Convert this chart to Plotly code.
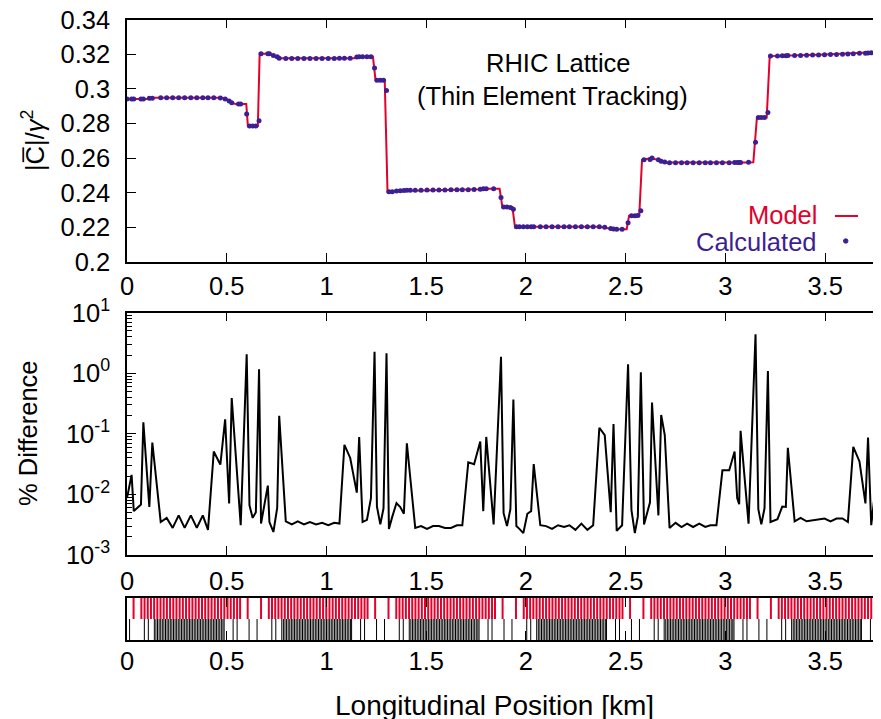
import plotly.graph_objects as go

# ---------------- data ----------------
s_km = [0.000, 0.023, 0.034, 0.070, 0.082, 0.112, 0.127, 0.169, 0.199, 0.229,
        0.259, 0.289, 0.320, 0.350, 0.380, 0.406, 0.435, 0.468, 0.492, 0.512,
        0.525, 0.559, 0.570, 0.600, 0.614, 0.630, 0.646, 0.662, 0.672, 0.706,
        0.714, 0.734, 0.753, 0.763, 0.796, 0.826, 0.856, 0.887, 0.917, 0.948,
        0.978, 1.009, 1.039, 1.065, 1.090, 1.119, 1.152, 1.164, 1.181, 1.203,
        1.223, 1.241, 1.253, 1.270, 1.286, 1.301, 1.313, 1.330, 1.351, 1.370,
        1.388, 1.403, 1.420, 1.445, 1.474, 1.504, 1.534, 1.564, 1.594, 1.624,
        1.654, 1.681, 1.711, 1.740, 1.771, 1.786, 1.801, 1.838, 1.875, 1.888,
        1.905, 1.922, 1.937, 1.952, 1.967, 1.987, 2.007, 2.026, 2.039, 2.072,
        2.101, 2.131, 2.161, 2.191, 2.218, 2.248, 2.278, 2.308, 2.337, 2.368,
        2.395, 2.425, 2.439, 2.455, 2.482, 2.512, 2.529, 2.546, 2.561, 2.576,
        2.592, 2.622, 2.632, 2.664, 2.678, 2.696, 2.720, 2.750, 2.780, 2.808,
        2.838, 2.869, 2.899, 2.925, 2.955, 2.985, 3.019, 3.046, 3.059, 3.069,
        3.076, 3.116, 3.151, 3.165, 3.180, 3.196, 3.213, 3.226, 3.261, 3.285,
        3.303, 3.313, 3.347, 3.377, 3.407, 3.437, 3.467, 3.497, 3.527, 3.557,
        3.587, 3.614, 3.641, 3.672, 3.702, 3.715, 3.731, 3.754, 3.760, 3.783]

c_calc = [0.2941, 0.2941, 0.2941, 0.2942, 0.2941, 0.2945, 0.2946, 0.2948, 0.2948, 0.2948,
          0.2948, 0.2948, 0.2948, 0.2948, 0.2948, 0.2948, 0.2948, 0.2947, 0.2942, 0.2930,
          0.2920, 0.2912, 0.2912, 0.2855, 0.2785, 0.2785, 0.2785, 0.2816, 0.3203, 0.3203,
          0.3202, 0.3193, 0.3185, 0.3176, 0.3175, 0.3175, 0.3175, 0.3175, 0.3175, 0.3175,
          0.3175, 0.3175, 0.3175, 0.3176, 0.3176, 0.3176, 0.3184, 0.3185, 0.3185, 0.3185,
          0.3185, 0.3120, 0.3050, 0.3050, 0.3050, 0.2990, 0.2405, 0.2405, 0.2410, 0.2412,
          0.2413, 0.2414, 0.2415, 0.2415, 0.2415, 0.2416, 0.2416, 0.2416, 0.2416, 0.2417,
          0.2417, 0.2417, 0.2417, 0.2418, 0.2420, 0.2423, 0.2423, 0.2423, 0.2373, 0.2317,
          0.2317, 0.2315, 0.2305, 0.2203, 0.2203, 0.2203, 0.2203, 0.2203, 0.2204, 0.2204,
          0.2204, 0.2204, 0.2204, 0.2204, 0.2204, 0.2204, 0.2204, 0.2204, 0.2204, 0.2203,
          0.2200, 0.2193, 0.2190, 0.2189, 0.2189, 0.2227, 0.2267, 0.2267, 0.2268, 0.2296,
          0.2590, 0.2592, 0.2600, 0.2590, 0.2582, 0.2578, 0.2573, 0.2573, 0.2573, 0.2573,
          0.2573, 0.2573, 0.2573, 0.2573, 0.2573, 0.2573, 0.2573, 0.2574, 0.2574, 0.2574,
          0.2575, 0.2576, 0.2691, 0.2835, 0.2835, 0.2835, 0.2864, 0.3189, 0.3190, 0.3191,
          0.3191, 0.3192, 0.3192, 0.3193, 0.3194, 0.3195, 0.3196, 0.3197, 0.3198, 0.3199,
          0.3200, 0.3201, 0.3203, 0.3205, 0.3206, 0.3207, 0.3208, 0.3210, 0.3212, 0.3100]

pct_diff = [0.0087, 0.021, 0.0053, 0.0068, 0.155, 0.0062, 0.072, 0.0035, 0.0041, 0.0028,
            0.0045, 0.0028, 0.0045, 0.0028, 0.0045, 0.0026, 0.051, 0.031, 0.174, 0.0071,
            0.39, 0.010, 0.0031, 2.05, 0.0066, 0.0041, 0.0051, 1.16, 0.0033, 0.014,
            0.0035, 0.0024, 0.0060, 0.199, 0.0036, 0.0032, 0.0036, 0.0032, 0.0035, 0.0032,
            0.0034, 0.0031, 0.0034, 0.0033, 0.066, 0.040, 0.0107, 0.089, 0.0035, 0.0038,
            0.0087, 2.27, 0.0063, 0.0032, 0.0059, 2.14, 0.0027, 0.0043, 0.0072, 0.0062,
            0.0048, 0.070, 0.0195, 0.0028, 0.0030, 0.0027, 0.0030, 0.0030, 0.0028, 0.0028,
            0.0031, 0.0031, 0.034, 0.0316, 0.075, 0.0053, 0.089, 0.0032, 1.88, 0.0049,
            0.0030, 0.0057, 0.37, 0.0030, 0.0027, 0.0023, 0.0048, 0.0053, 0.0316, 0.0031,
            0.0030, 0.0027, 0.0031, 0.0029, 0.0031, 0.0026, 0.0033, 0.0026, 0.0031, 0.126,
            0.095, 0.0051, 0.145, 0.0025, 0.0031, 1.41, 0.0055, 0.0023, 0.0043, 1.04,
            0.0032, 0.0074, 0.33, 0.0045, 0.205, 0.095, 0.0028, 0.0034, 0.0029, 0.0033,
            0.0029, 0.0033, 0.0029, 0.0031, 0.0031, 0.025, 0.025, 0.051, 0.0087, 0.0069,
            0.112, 0.0033, 4.4, 0.0057, 0.0032, 0.0059, 1.09, 0.0035, 0.0039, 0.0063,
            0.0062, 0.059, 0.0036, 0.0041, 0.0036, 0.0037, 0.0038, 0.0040, 0.0036, 0.0040,
            0.0040, 0.0035, 0.061, 0.035, 0.0071, 0.087, 0.0031, 0.0145, 0.0049, 2.6]

model_s = [0.000, 0.100, 0.130, 0.470, 0.500, 0.525, 0.545, 0.598, 0.606, 0.656,
           0.665, 0.710, 0.760, 1.140, 1.152, 1.233, 1.246, 1.292, 1.306, 1.350,
           1.770, 1.786, 1.868, 1.882, 1.932, 1.945, 2.370, 2.440, 2.505, 2.517,
           2.568, 2.582, 2.630, 2.700, 3.100, 3.140, 3.158, 3.207, 3.222, 3.500,
           3.760, 3.790]
model_c = [0.2941, 0.2941, 0.2948, 0.2948, 0.2942, 0.2920, 0.2912, 0.2912, 0.2785, 0.2785,
           0.3203, 0.3203, 0.3176, 0.3176, 0.3185, 0.3185, 0.3050, 0.3050, 0.2405, 0.2410,
           0.2420, 0.2423, 0.2423, 0.2317, 0.2317, 0.2203, 0.2203, 0.2189, 0.2189, 0.2267,
           0.2267, 0.2590, 0.2600, 0.2574, 0.2574, 0.2576, 0.2835, 0.2835, 0.3189, 0.3198,
           0.3212, 0.3212]

# lattice layout (km)
sector_start = [-0.567, 0.072, 0.711, 1.350, 1.989, 2.628, 3.267]
dipole_offsets = [0.000, 0.016, 0.032, 0.048, 0.064, 0.080, 0.096, 0.112, 0.128, 0.144,
                  0.160, 0.176, 0.192, 0.208, 0.224, 0.240, 0.256, 0.272, 0.288, 0.304,
                  0.320, 0.336, 0.352, 0.368, 0.384, 0.400, 0.416, 0.432, 0.448, 0.464,
                  0.480, 0.495, 0.533, 0.600]
quad_offsets = [0.015, 0.035, 0.065, 0.073, 0.081, 0.089, 0.097, 0.105, 0.113, 0.121,
                0.129, 0.137, 0.145, 0.153, 0.161, 0.169, 0.177, 0.185, 0.193, 0.201,
                0.209, 0.217, 0.225, 0.233, 0.241, 0.249, 0.257, 0.265, 0.273, 0.281,
                0.289, 0.297, 0.305, 0.313, 0.321, 0.329, 0.337, 0.345, 0.353, 0.361,
                0.369, 0.377, 0.385, 0.393, 0.401, 0.409, 0.415, 0.460, 0.480, 0.540,
                0.580]

x_ticks = [0, 0.5, 1, 1.5, 2, 2.5, 3, 3.5]
x_tick_text = ["0", "0.5", "1", "1.5", "2", "2.5", "3", "3.5"]
c_ticks = [0.2, 0.22, 0.24, 0.26, 0.28, 0.3, 0.32, 0.34]
c_tick_text = ["0.2", "0.22", "0.24", "0.26", "0.28", "0.3", "0.32", "0.34"]
d_ticks = [0.001, 0.01, 0.1, 1, 10]
d_tick_text = ["10<sup>-3</sup>", "10<sup>-2</sup>", "10<sup>-1</sup>",
               "10<sup>0</sup>", "10<sup>1</sup>"]
d_minor = [0.002, 0.003, 0.004, 0.005, 0.006, 0.007, 0.008, 0.009,
           0.02, 0.03, 0.04, 0.05, 0.06, 0.07, 0.08, 0.09,
           0.2, 0.3, 0.4, 0.5, 0.6, 0.7, 0.8, 0.9,
           2, 3, 4, 5, 6, 7, 8, 9]

RED = "#e3002b"
PURPLE = "#3d1f94"
FONT = "Liberation Sans, Arial, Helvetica, sans-serif"
FS = 25.5
X_MAX = 3.78

# build lattice line segments
dip_x, dip_y, quad_x, quad_y = [], [], [], []
for s0 in sector_start:
    for o in dipole_offsets:
        p = s0 + o
        dip_x += [p, p, None]
        dip_y += [1.0, 2.0, None]
    for o in quad_offsets:
        p = s0 + o
        quad_x += [p, p, None]
        quad_y += [0.0, 1.0, None]

fig = go.Figure()
fig.add_trace(go.Scatter(x=model_s, y=model_c, mode="lines",
                         line=dict(color=RED, width=2), xaxis="x", yaxis="y",
                         showlegend=False))
fig.add_trace(go.Scatter(x=s_km, y=c_calc, mode="markers",
                         marker=dict(color=PURPLE, size=5, symbol="circle"),
                         xaxis="x", yaxis="y", showlegend=False))
fig.add_trace(go.Scatter(x=s_km, y=pct_diff, mode="lines",
                         line=dict(color="black", width=2), xaxis="x2", yaxis="y2",
                         showlegend=False))
fig.add_trace(go.Scatter(x=dip_x, y=dip_y, mode="lines",
                         line=dict(color=RED, width=2), xaxis="x3", yaxis="y3",
                         showlegend=False))
fig.add_trace(go.Scatter(x=quad_x, y=quad_y, mode="lines",
                         line=dict(color="black", width=1), xaxis="x3", yaxis="y3",
                         showlegend=False))

# the page body adds an 8 px offset; the figure is sized so its area ends at the window edge
OFF = 8
W, H = 881 - OFF, 719 - OFF
L = 127 - OFF


def py(p):
    return 1 - (p - OFF) / H


def px(p):
    return (p - OFF - L) / (W - L)


def xaxis_cfg(standoff):
    return dict(range=[0, X_MAX], tickvals=x_ticks, ticktext=x_tick_text,
                ticks="inside", ticklen=9, tickwidth=1.3, tickcolor="black",
                showline=True, linecolor="black", linewidth=1.5, mirror="ticks",
                showgrid=False, zeroline=False,
                tickfont=dict(family=FONT, size=FS, color="black"),
                ticklabelstandoff=standoff, automargin=False, domain=[0, 1])


fig.update_layout(
    width=W, height=H,
    margin=dict(l=L, r=0, t=0, b=0),
    paper_bgcolor="white", plot_bgcolor="white",
    font=dict(family=FONT, size=FS, color="black"),
    showlegend=False,
    xaxis=dict(xaxis_cfg(1), anchor="y"),
    xaxis2=dict(xaxis_cfg(3), anchor="y2"),
    xaxis3=dict(xaxis_cfg(-2), anchor="y3"),
    yaxis=dict(domain=[py(262), py(19.5)], range=[0.2, 0.34005], anchor="x",
               tickvals=c_ticks, ticktext=c_tick_text,
               ticks="inside", ticklen=9, tickwidth=1.3, tickcolor="black",
               showline=True, linecolor="black", linewidth=1.5,
               showgrid=False, zeroline=False,
               tickfont=dict(family=FONT, size=FS, color="black"),
               ticklabelstandoff=10, ticklabeloverflow="allow", automargin=False),
    yaxis2=dict(domain=[py(555), py(312.7)], type="log", range=[-3, 1], anchor="x2",
                tickvals=d_ticks, ticktext=d_tick_text,
                ticks="inside", ticklen=9, tickwidth=1.3, tickcolor="black",
                minor=dict(tickvals=d_minor, ticks="inside", ticklen=5, tickwidth=1,
                           tickcolor="black", showgrid=False),
                showline=True, linecolor="black", linewidth=1.5,
                showgrid=False, zeroline=False,
                tickfont=dict(family=FONT, size=FS, color="black"),
                ticklabelstandoff=10, ticklabeloverflow="allow", automargin=False),
    yaxis3=dict(domain=[py(640), py(598)], range=[0, 2], anchor="x3",
                showticklabels=False, ticks="",
                showline=True, linecolor="black", linewidth=1.5, mirror=False,
                showgrid=False, zeroline=False, automargin=False),
)

ann = [
    dict(text="|C\u0305|/<i>\u03b3</i><sup>2</sup>", x=px(33), y=py(140), textangle=-90,
         font=dict(size=FS)),
    dict(text="% Difference", x=px(28), y=py(433), textangle=-90, font=dict(size=FS)),
    dict(text="Longitudinal Position [km]", x=px(494), y=py(705), font=dict(size=28)),
    dict(text="RHIC Lattice", x=px(558), y=py(63), font=dict(size=FS)),
    dict(text="(Thin Element Tracking)", x=px(552), y=py(96), font=dict(size=FS)),
    dict(text="Model", x=px(819), y=py(215), xanchor="right", font=dict(size=FS, color=RED)),
    dict(text="Calculated", x=px(819), y=py(242), xanchor="right",
         font=dict(size=FS, color=PURPLE)),
]
for a in ann:
    a.setdefault("xanchor", "center")
    a.update(xref="paper", yref="paper", yanchor="middle", showarrow=False)
fig.update_layout(annotations=ann)

# legend samples
fig.add_shape(type="line", xref="paper", yref="paper", x0=px(835), x1=px(858),
              y0=py(216), y1=py(216), line=dict(color=RED, width=2))
fig.add_shape(type="circle", xref="paper", yref="paper", x0=px(843.5), x1=px(848),
              y0=py(243.2), y1=py(238.8), line=dict(color=PURPLE, width=1),
              fillcolor=PURPLE)

fig.write_html("out.html")
